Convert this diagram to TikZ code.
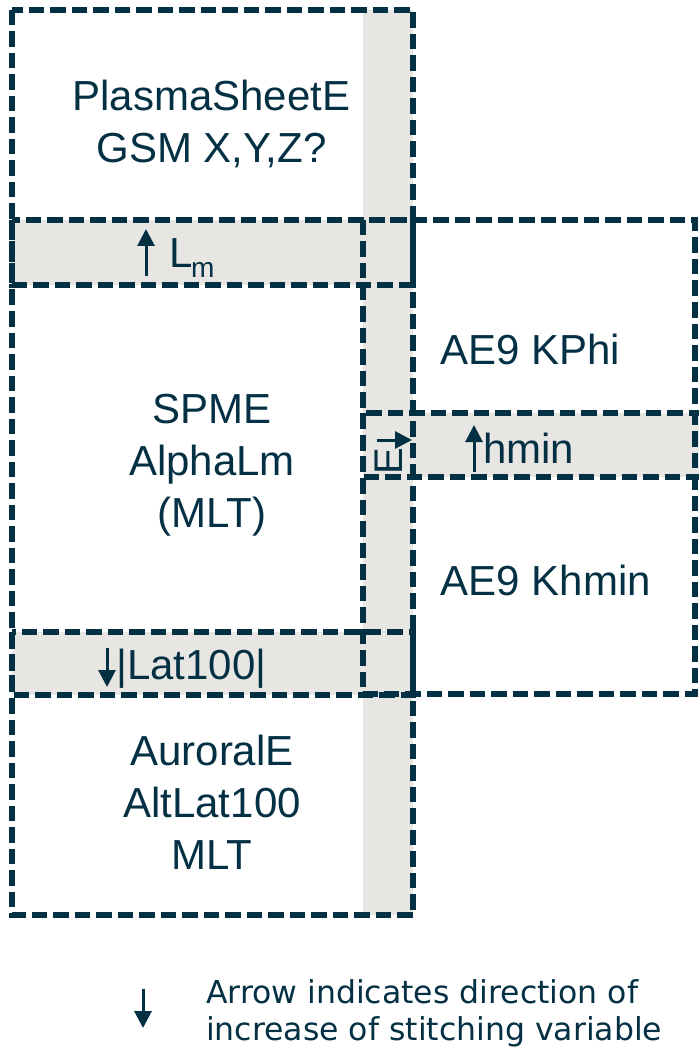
\documentclass[tikz,border=0pt]{standalone}
\usepackage{fontspec}
\usetikzlibrary{arrows.meta}
\newfontfamily\arialf{Liberation Sans}
\newfontfamily\verdf{DejaVu Sans}
\definecolor{navy}{RGB}{4,48,68}
\definecolor{band}{RGB}{231,230,226}
\tikzset{
  dbox/.style={draw=navy, line width=5.2pt, dash pattern=on 15.5pt off 6pt},
  big/.style={text=navy, inner sep=0pt, font=\arialf\fontsize{42}{52}\selectfont},
  sub/.style={text=navy, inner sep=0pt, font=\arialf\fontsize{28}{32}\selectfont},
  leg/.style={text=navy, inner sep=0pt, font=\verdf\fontsize{31.5}{37}\selectfont},
  arr/.style={draw=navy, line width=3pt, -{Triangle[width=17pt,length=17pt]}}
}
\begin{document}
\begin{tikzpicture}[x=1pt,y=-1pt]
\useasboundingbox[fill=white] (0,0) rectangle (698,1048);
% grey fills
\fill[band] (363,10) rectangle (413,915);
\fill[band] (12,220) rectangle (413,285);
\fill[band] (12,632) rectangle (413,695);
\fill[band] (363,413) rectangle (704,477);
% dashed boxes
\draw[dbox] (12,10) rectangle (413,915);
\draw[dbox] (12,220) rectangle (413,285);
\draw[dbox] (363,220) rectangle (695,694);
\draw[dbox] (363,413) rectangle (706,477);
\draw[dbox] (12,632) rectangle (413,695);
% texts
\node[big, anchor=base] (ps) at (211.5,111) {\begin{tabular}[t]{@{}c@{}}PlasmaSheetE\\GSM X,Y,Z?\end{tabular}};
\node[big, anchor=base] (spme) at (212,423) {\begin{tabular}[t]{@{}c@{}}SPME\\AlphaLm\\(MLT)\end{tabular}};
\node[big, anchor=base] (aur) at (212,765) {\begin{tabular}[t]{@{}c@{}}AuroralE\\AltLat100\\MLT\end{tabular}};
\node[big, anchor=base] (kphi) at (530,364) {AE9 KPhi};
\node[big, anchor=base] (khmin) at (546,595) {AE9 Khmin};
\node[big, anchor=base west] (hmin) at (483,463) {hmin};
\node[big, anchor=base west] (lat) at (116,679) {|Lat100|};
\node[big, anchor=base west] (lL) at (169,268) {L};
\node[sub, anchor=base west] (lm) at (191,277) {m};
\node[text=navy, inner sep=0pt, font=\arialf\fontsize{40}{44}\selectfont, rotate=90] (eE) at (388.5,461.5) {E};
\node[leg, anchor=base west] (legt) at (206,1003) {\begin{tabular}[t]{@{}l@{}}Arrow indicates direction of\\increase of stitching variable\end{tabular}};
% arrows
\coordinate (a1s) at (146,276); \coordinate (a1e) at (146,229);
\coordinate (a2s) at (474,472); \coordinate (a2e) at (474,425);
\coordinate (a3s) at (107,648); \coordinate (a3e) at (107,687);
\coordinate (a4s) at (377,440); \coordinate (a4e) at (412,440);
\coordinate (a5s) at (143,989); \coordinate (a5e) at (143,1028);
\draw[arr] (a1s) -- (a1e);
\draw[arr] (a2s) -- (a2e);
\draw[arr] (a3s) -- (a3e);
\draw[arr] (a4s) -- (a4e);
\draw[arr] (a5s) -- (a5e);
\end{tikzpicture}
\end{document}
